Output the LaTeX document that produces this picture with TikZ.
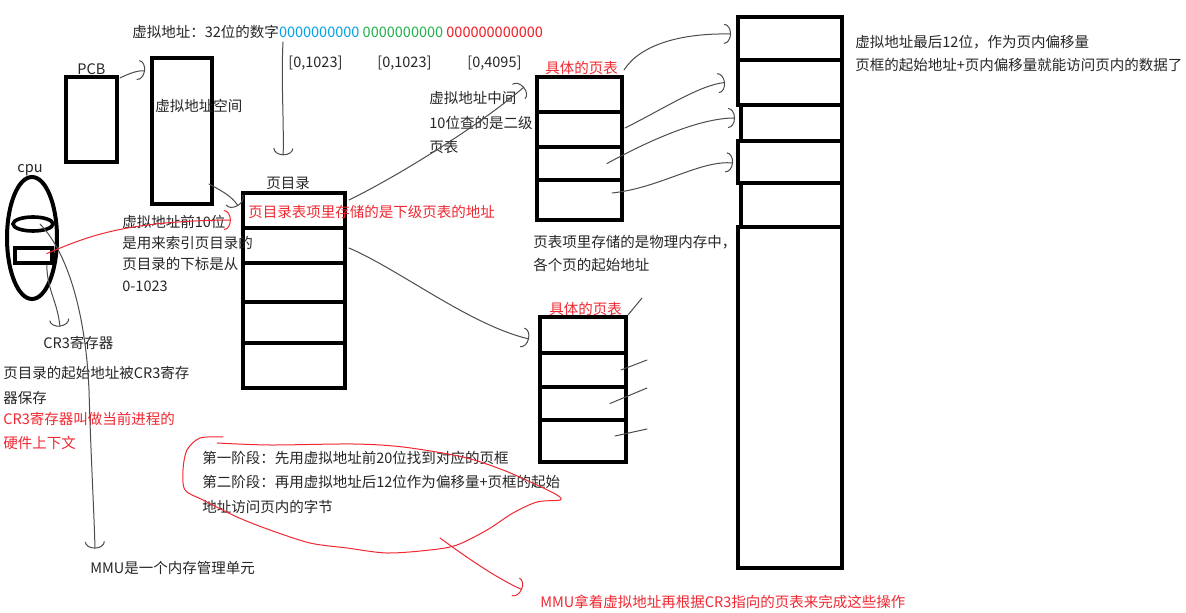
\documentclass[tikz,border=0pt]{standalone}
\usepackage{fontspec}
\setmainfont{Noto Sans CJK SC}
\usetikzlibrary{arrows.meta, fit, shapes.geometric}
\definecolor{inkred}{RGB}{240,40,50}
\definecolor{bitblue}{RGB}{0,162,232}
\definecolor{bitgreen}{RGB}{34,177,76}
\definecolor{bitred}{RGB}{237,28,36}

\begin{document}
\begin{tikzpicture}[x=0.5pt, y=-0.5pt,
        every node/.style={font=\fontsize{7.25pt}{9pt}\selectfont, text=black!85},
        txt/.style={anchor=west, inner sep=0pt, text height=6.4pt, text depth=0.9pt},
        redtxt/.style={txt, text=inkred},
        box/.style={draw=black, line width=2pt, inner sep=0pt},
        pen/.style={draw=black!70, line width=0.5pt, line cap=round, line join=round},
        redpen/.style={pen, draw=inkred},
        hook/.style={-{Arc Barb[length=3.5pt, width=10pt]}}]
                \fill[white] (0,0) rectangle (1186,613);
                \useasboundingbox (0,0) rectangle (1186,613);
                \node[box, fit={(66,77) (117,162)}] (pcb) {};
                \node[box, fit={(152,58) (212,204)}] (vas) {};
                \node[box, ellipse, minimum width=25pt, minimum height=61pt] (cpu) at (32,238) {};
                \node[box, ellipse, line width=1.8pt, minimum width=20pt, minimum height=7pt] (cache) at (33,224) {};
                \node[box, line width=1.8pt, fit={(15,248) (52,263)}] (reg) {};
                \foreach \i/\a/\b in {1/193/228, 2/228/263, 3/263/302, 4/302/343, 5/343/388}
                    \node[box, fit={(243,\a) (345,\b)}] (pd\i) {};
                \foreach \i/\a/\b in {1/77/112, 2/112/147, 3/147/180, 4/180/220}
                    \node[box, fit={(537,\a) (622,\b)}] (ptA\i) {};
                \foreach \i/\a/\b in {1/317/353, 2/353/387, 3/387/420, 4/420/462}
                    \node[box, fit={(540,\a) (626,\b)}] (ptB\i) {};
                \foreach \i/\l/\a/\b in {1/738/17/60, 2/738/60/105, 3/741/105/141, 4/738/141/183, 5/741/183/227, 6/738/227/568}
                    \node[box, fit={(\l,\a) (842,\b)}] (fr\i) {};
                \node[txt] (title) at (132,32) {虚拟地址：32位的数字\textcolor{bitblue}{0000000000} \textcolor{bitgreen}{0000000000} \textcolor{bitred}{000000000000}};
                \node[txt] (rng1) at (288,62) {[0,1023]};
                \node[txt] (rng2) at (377,62) {[0,1023]};
                \node[txt] (rng3) at (467,62) {[0,4095]};
                \node[txt] (pcblbl) at (77,69) {PCB};
                \node[txt] (vaslbl) at (155,106) {虚拟地址空间};
                \node[txt] (cpulbl) at (17,167) {cpu};
                \node[txt] (pdlbl) at (266,183) {页目录};
                \node[redtxt] (pdnote) at (248,212) {页目录表项里存储的是下级页表的地址};
                \node[redtxt] (ptAlbl) at (545,68) {具体的页表};
                \node[redtxt] (ptBlbl) at (549,309) {具体的页表};
                \foreach \t/\y [count=\i] in {虚拟地址前10位/222, 是用来索引页目录的/243, 页目录的下标是从/264, 0-1023/286}
                    \node[txt] (idx\i) at (122,\y) {\t};
                \foreach \t/\y [count=\i] in {虚拟地址中间/98, 10位查的是二级/123, 页表/147}
                    \node[txt] (mid\i) at (429,\y) {\t};
                \foreach \t/\y [count=\i] in {页表项里存储的是物理内存中，/242, 各个页的起始地址/265}
                    \node[txt] (pte\i) at (533,\y) {\t};
                \foreach \t/\y [count=\i] in {虚拟地址最后12位，作为页内偏移量/42, 页框的起始地址+页内偏移量就能访问页内的数据了/65}
                    \node[txt] (ofs\i) at (855,\y) {\t};
                \node[txt] (cr3lbl) at (43,343) {CR3寄存器};
                \node[txt] (cr3a) at (3,373) {页目录的起始地址被CR3寄存};
                \node[txt] (cr3b) at (3,398) {器保存};
                \node[redtxt] (cr3c) at (3,419) {CR3寄存器叫做当前进程的};
                \node[redtxt] (cr3d) at (3,443) {硬件上下文};
                \foreach \t/\y [count=\i] in {第一阶段：先用虚拟地址前20位找到对应的页框/458, 第二阶段：再用虚拟地址后12位作为偏移量+页框的起始/482, 地址访问页内的字节/507}
                    \node[txt] (stage\i) at (202,\y) {\t};
                \node[txt] (mmu) at (90,568) {MMU是一个内存管理单元};
                \node[redtxt] (mmuop) at (540,602) {MMU拿着虚拟地址再根据CR3指向的页表来完成这些操作};
                \coordinate (hi10) at (283,42);
                \coordinate (lassotail) at (440,538);
                \foreach \i/\x/\y in {1/642/298, 2/647/360, 3/647/388, 4/647/429}
                    \coordinate (ptBo\i) at (\x,\y);
                \draw[pen, hook] ([shift={(0.5pt,-1.5pt)}]pcb.north east) .. controls (128,74) and (138,70) .. ([shift={(-2.5pt,-7.5pt)}]vas.north west);
                \draw[pen, hook] (hi10) .. controls (281,80) and (284,120) .. ([shift={(-2.5pt,10pt)}]pdlbl.north);
                \draw[pen, hook] ([shift={(-2.5pt,11pt)}]vas.south east) .. controls (220,190) and (232,196) .. ([shift={(-1.5pt,2.25pt)}]pd1.west);
                \draw[pen, hook] ([shift={(1pt,-4.5pt)}]pd1.north east) .. controls (400,175) and (480,125) .. ([shift={(-5.5pt,-6pt)}]ptA1.north west);
                \draw[pen, hook] ([shift={(1pt,-1.25pt)}]pd2.east) .. controls (400,270) and (470,325) .. ([shift={(-4.5pt,-2pt)}]ptB1.west);
                \draw[pen, hook] ([yshift=2.5pt]ptA1.north east) .. controls (640,45) and (680,33) .. ([shift={(-2.5pt,2.25pt)}]fr1.west);
                \draw[pen, hook] ([shift={(0.5pt,0.75pt)}]ptA2.east) .. controls (665,108) and (700,85) .. ([xshift=-5.5pt]fr2.west);
                \draw[pen, hook] ([xshift=-8.5pt]ptA3.east) .. controls (650,140) and (700,118) .. ([shift={(-2pt,2.5pt)}]fr3.west);
                \draw[pen, hook] ([shift={(-6pt,3.5pt)}]ptA4.east) .. controls (660,188) and (700,160) .. ([shift={(-1.5pt,-0.5pt)}]fr4.west);
                \draw[pen] (ptB1.north east) -- (ptBo1);
                \draw[pen] ([xshift=-3.5pt]ptB2.east) -- (ptBo2);
                \draw[pen] ([xshift=-9pt]ptB3.east) -- (ptBo3);
                \draw[pen] ([shift={(-6.5pt,2.5pt)}]ptB4.east) -- (ptBo4);
                \draw[pen, hook] ([xshift=-3.5pt]reg.south east) .. controls (47,290) and (57,300) .. ([shift={(8.5pt,4.35pt)}]cr3lbl.north west);
                \draw[pen, hook] ([xshift=3.5pt]cache.center) .. controls (70,255) and (86,320) .. (89,390) .. controls (91,460) and (94,510) .. ([shift={(2.5pt,5.85pt)}]mmu.north west);
                \draw[redpen, hook] ([shift={(-3.5pt,1pt)}]reg.east) .. controls (85,238) and (120,221) .. ([shift={(2.5pt,1pt)}]idx1.east);
                \draw[redpen] plot[smooth] coordinates {(223,437) (200,438) (187,450) (183,470) (185,490) (203,500) (237,517) (270,530) (310,543) (347,548) (387,553) (430,550) (457,545) (487,530) (513,513) (537,502) (560,500) (557,495) (537,485) (503,470) (463,457) (403,447) (353,444) (270,445) (217,443)};
                \draw[redpen, hook] (lassotail) .. controls (470,560) and (500,580) .. ([shift={(-9pt,2.35pt)}]mmuop.north west);
            \end{tikzpicture}
\end{document}
